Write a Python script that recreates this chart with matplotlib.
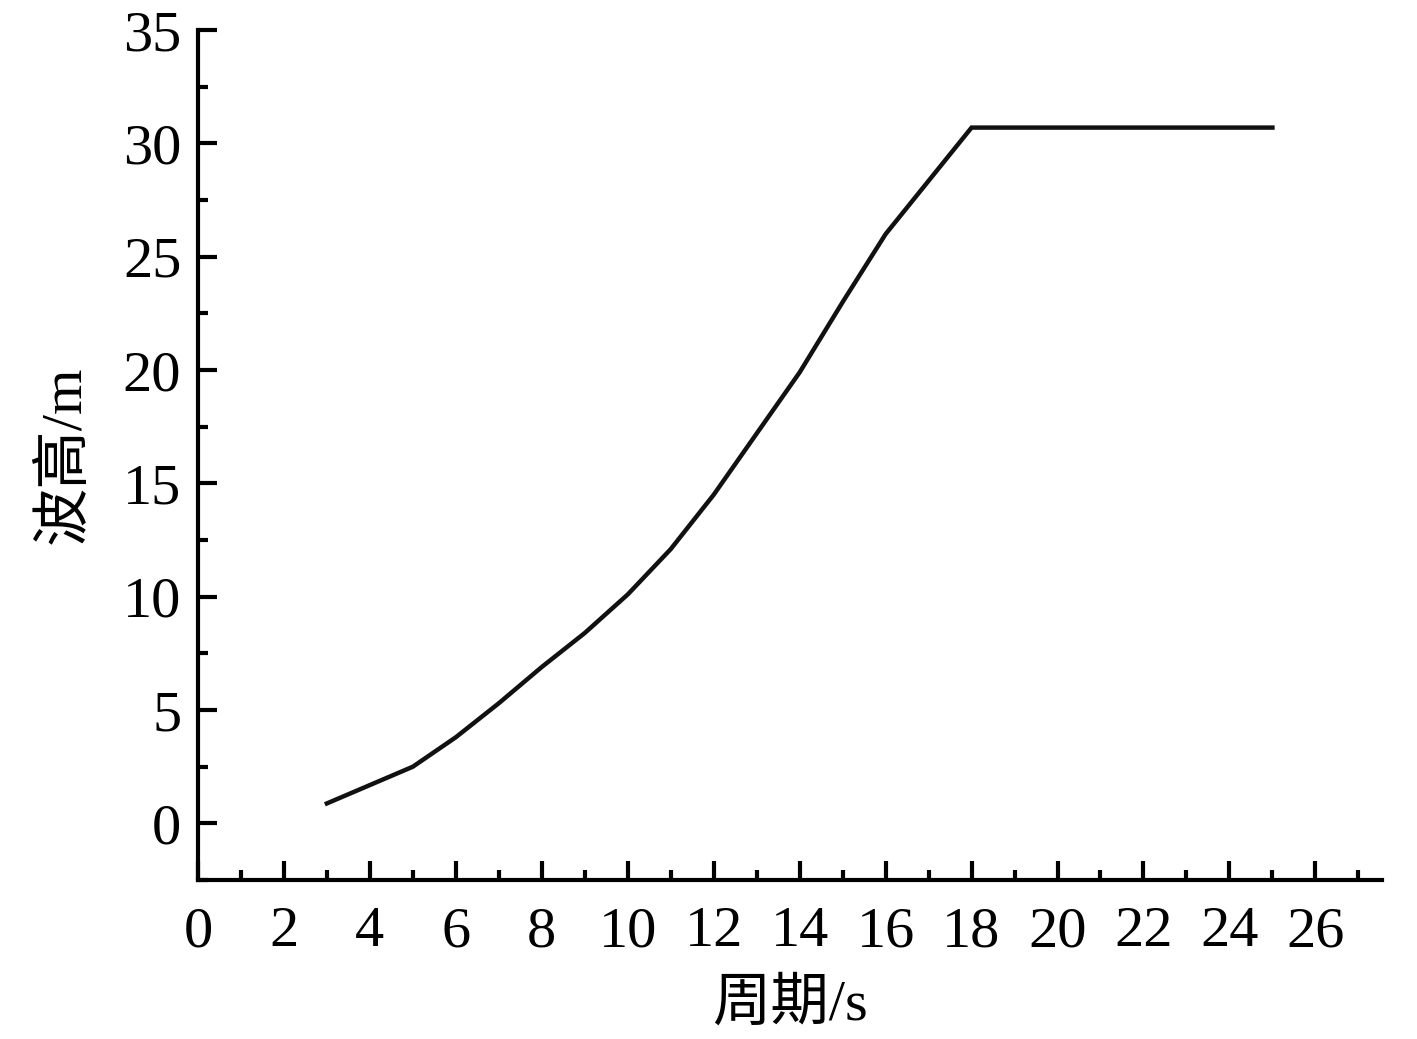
import numpy as np
import matplotlib
matplotlib.use("Agg")
import matplotlib.pyplot as plt
from matplotlib.ticker import MultipleLocator

period = [3, 5, 6, 7, 8, 9, 10, 11, 12, 13, 14, 15, 16, 18, 25]
height = [0.88, 2.5, 3.8, 5.3, 6.9, 8.4, 10.1, 12.1, 14.5, 17.2, 19.9, 23.0, 26.0, 30.7, 30.7]

xticks = list(range(0, 27, 2))
yticks = list(range(0, 36, 5))

fam = ['Liberation Serif', 'Noto Sans CJK SC']
plt.rcParams['font.family'] = fam

fig = plt.figure(figsize=(14.17, 10.39), dpi=100)
ax = fig.add_axes([0.1397, 0.153, 0.8356, 0.818])

ax.plot(period, height, color='#111111', lw=3.2, solid_joinstyle='miter')

ax.set_xlim(0, 27.55)
ax.set_ylim(-2.5, 35)
ax.set_xticks(xticks)
ax.set_yticks(yticks)
ax.xaxis.set_minor_locator(MultipleLocator(1))
ax.yaxis.set_minor_locator(MultipleLocator(2.5))

for s in ['top', 'right']:
    ax.spines[s].set_visible(False)
for s in ['left', 'bottom']:
    ax.spines[s].set_linewidth(3)

ax.tick_params(which='major', direction='in', length=14, width=3, labelsize=42)
ax.tick_params(axis='x', which='major', pad=19)
ax.tick_params(axis='y', which='major', pad=12)
ax.tick_params(which='minor', direction='in', length=7, width=3)

ax.set_xlabel('周期/s', fontsize=42, labelpad=14)
ax.set_ylabel('波高/m', fontsize=42, labelpad=22)

fig.savefig('out.png', dpi=100)
